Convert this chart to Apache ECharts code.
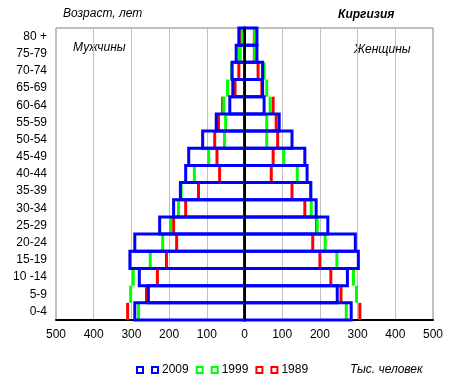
<!DOCTYPE html>
<html>
<head>
<meta charset="utf-8">
<script src="https://cdn.jsdelivr.net/npm/echarts@6/dist/echarts.min.js"></script>
<style>html,body{margin:0;padding:0;background:#fff;}#c{width:457px;height:390px;}</style>
</head>
<body>
<div id="c"></div>
<script>
var categories = ['0-4','5-9','10 -14','15-19','20-24','25-29','30-34','35-39','40-44','45-49','50-54','55-59','60-64','65-69','70-74','75-79','80 +'];
var xTicks = [-500,-400,-300,-200,-100,0,100,200,300,400,500];

var male2009 = [291, 255, 279, 304, 291, 225, 188, 170, 156, 148, 111, 75, 39, 31, 33, 22, 15];
var male1999 = [281, 302, 295, 250, 217, 196, 175, 168, 133, 95, 53, 50, 55, 45, 34, 13, 6];
var male1989 = [310, 260, 231, 207, 180, 188, 156, 122, 66, 73, 79, 69, 58, 25, 15, 12, 10];

var female2009 = [283, 246, 273, 302, 294, 221, 190, 176, 166, 160, 126, 92, 52, 48, 48, 33, 33];
var female1999 = [270, 297, 289, 245, 214, 193, 177, 175, 140, 104, 59, 59, 68, 59, 52, 27, 27];
var female1989 = [306, 256, 229, 200, 181, 191, 160, 126, 71, 76, 88, 84, 76, 46, 36, 26, 26];

var BLUE = '#0000ff', GREEN = '#00ff00', RED = '#ff0000';
var FONT = 'Liberation Sans, Arial, sans-serif';

function pts(a, sign){ return a.map(function(v, i){ return [sign * v, i]; }); }

function boxSeries(name, data){
  return {
    name: name, type: 'custom', data: data, z: 4, silent: true,
    itemStyle: { color: '#fff', borderColor: BLUE },
    renderItem: function(params, api){
      var y = api.value(1);
      var p0 = api.coord([0, y]);
      var p1 = api.coord([api.value(0), y]);
      var h = api.size([0, 1])[1];
      return {
        type: 'rect',
        shape: { x: Math.min(p0[0], p1[0]), y: p0[1] - h / 2, width: Math.abs(p1[0] - p0[0]), height: h },
        style: { fill: null, stroke: BLUE, lineWidth: 3 }
      };
    }
  };
}
function markSeries(name, data, color, z){
  return {
    name: name, type: 'custom', data: data, z: z, silent: true,
    itemStyle: { color: color },
    renderItem: function(params, api){
      var y = api.value(1);
      var p = api.coord([api.value(0), y]);
      var h = api.size([0, 1])[1];
      return {
        type: 'rect',
        shape: { x: p[0] - 1.5, y: p[1] - h / 2, width: 3, height: h },
        style: { fill: color }
      };
    }
  };
}
function legendItem(name, color){
  return { name: name, icon: 'rect', itemStyle: { color: '#ffffff', borderColor: color, borderWidth: 2 } };
}

var chart = echarts.init(document.getElementById('c'), null, { renderer: 'canvas' });
var zeroSeries = boxSeries('2009', pts(female2009, 1));
zeroSeries.markLine = {
  silent: true, symbol: ['none','none'], label: { show: false },
  lineStyle: { color: '#000', width: 2, type: 'solid' },
  data: [{ xAxis: 0 }], animation: false
};
chart.setOption({
  animation: false,
  grid: { left: 56, right: 24, top: 28, bottom: 70, show: true, borderColor: '#808080', borderWidth: 1, containLabel: false },
  xAxis: {
    type: 'value', min: -500, max: 500, interval: 100,
    axisLine: { show: true, onZero: false, lineStyle: { color: '#000', width: 2 } },
    axisTick: { show: false },
    splitLine: { show: true, lineStyle: { color: '#c0c0c0', width: 1 } },
    axisLabel: { color: '#000', fontFamily: FONT, fontSize: 12, margin: 9,
      formatter: function(v){ return String(Math.abs(v)); } }
  },
  yAxis: {
    type: 'category', data: categories,
    axisLine: { show: true, lineStyle: { color: '#808080', width: 1 } },
    axisTick: { show: false },
    splitLine: { show: false },
    axisLabel: { color: '#000', fontFamily: FONT, fontSize: 12, margin: 9, align: 'right' }
  },
  legend: {
    left: 131, top: 359, itemWidth: 6, itemHeight: 6, itemGap: 7,
    selectedMode: false,
    textStyle: { color: '#000', fontFamily: FONT, fontSize: 12, padding: [0,0,0,-1] },
    formatter: function(n){ return n.charAt(0) === 'M' ? '' : n; },
    data: [legendItem('M2009', BLUE), legendItem('2009', BLUE), legendItem('M1999', GREEN), legendItem('1999', GREEN), legendItem('M1989', RED), legendItem('1989', RED)]
  },
  graphic: [
    { type: 'text', left: 63, top: 8, style: { text: 'Возраст, лет', font: 'italic 12px ' + FONT, fill: '#000' } },
    { type: 'text', left: 338, top: 9, style: { text: 'Киргизия', font: 'italic bold 12px ' + FONT, fill: '#000' } },
    { type: 'text', left: 73, top: 42, style: { text: 'Мужчины', font: 'italic 12px ' + FONT, fill: '#000' } },
    { type: 'text', left: 354, top: 44, style: { text: 'Женщины', font: 'italic 12px ' + FONT, fill: '#000' } },
    { type: 'text', left: 350, top: 364, style: { text: 'Тыс. человек', font: 'italic 12px ' + FONT, fill: '#000' } }
  ],
  series: [
    markSeries('M1989', pts(male1989, -1), RED, 2),
    markSeries('1989', pts(female1989, 1), RED, 2),
    markSeries('M1999', pts(male1999, -1), GREEN, 3),
    markSeries('1999', pts(female1999, 1), GREEN, 3),
    boxSeries('M2009', pts(male2009, -1)),
    zeroSeries
  ]
});
</script>
</body>
</html>
